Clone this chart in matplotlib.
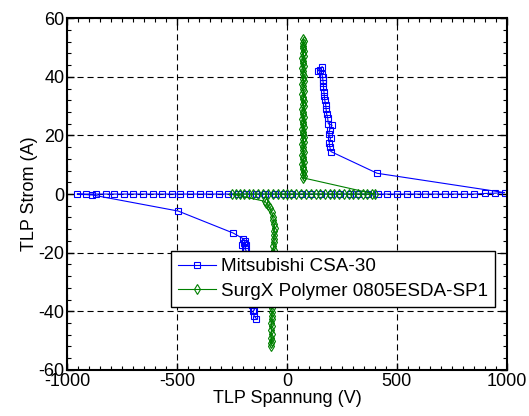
import matplotlib
matplotlib.use("Agg")
import matplotlib.pyplot as plt
from matplotlib.ticker import MultipleLocator

plt.rcParams["font.family"] = ["Liberation Sans", "DejaVu Sans"]
plt.rcParams["axes.unicode_minus"] = False

# Mitsubishi CSA-30, in measurement path order
mitsu_v = [
    -140, -150, -155, -148, -160, -162, -165, -168, -172, -175, -180, -185,
    -192, -185, -195, -205, -190, -200, -245, -495, -886,
    -955, -915, -870, -825, -785, -740, -700, -655, -610, -570, -525, -485,
    -440, -395, -355, -310, -270, -225, -185, -140, -100, -55, -15,
    25, 70, 110, 155, 200, 240, 285, 325, 370, 415, 455, 500, 545, 590,
    630, 675, 720, 760, 805, 850, 900, 945, 990,
    410, 200, 195, 192, 198, 190, 194, 205, 188, 185, 180, 178, 176, 172,
    170, 168, 166, 165, 163, 162, 158, 150, 140, 160,
]
mitsu_i = [
    -42.5, -41.5, -40.0, -39.5, -38.0, -35.0, -32.0, -29.0, -26.0, -23.0, -21.0, -19.5,
    -18.5, -17.5, -16.8, -17.5, -16.0, -15.2, -13.3, -5.8, -0.3,
    0, 0, 0, 0, 0, 0, 0, 0, 0, 0, 0, 0,
    0, 0, 0, 0, 0, 0, 0, 0, 0, 0, 0,
    0, 0, 0, 0, 0, 0, 0, 0, 0, 0, 0, 0, 0, 0,
    0, 0, 0, 0, 0, 0, 0.2, 0.3, 0.5,
    7.1, 14.5, 16.0, 17.5, 19.0, 20.5, 22.0, 23.5, 24.0, 26.0, 27.5, 29.0, 30.5, 32.0,
    33.5, 35.0, 36.5, 38.0, 39.0, 40.0, 41.0, 42.5, 42.0, 43.5,
]

# SurgX Polymer 0805ESDA-SP1, in measurement path order
surgx_v = [
    -74, -72, -70, -73, -69, -71, -68, -72, -67, -70, -66, -69, -71, -65,
    -68, -64, -67, -70, -63, -66, -62, -65, -68, -61, -64, -60, -63, -59,
    -62, -58, -61, -57, -60, -56, -59, -62, -64, -70, -78, -88, -95, -100,
    -250, -232, -215, -195, -175, -155, -132, -110, -88, -65, -42, -20,
    0, 20, 42, 62, 85, 108, 130, 150, 172, 195, 215, 238, 258, 280, 300,
    322, 345, 365, 385, 400,
    75, 76, 73, 78, 71, 75, 69, 77, 72, 74, 70, 78, 73, 75, 68, 76, 72,
    79, 71, 74, 69, 77, 73, 75, 70, 78, 72, 74, 68, 76, 73, 79, 71, 75,
    70, 77, 72, 74, 69, 78, 73, 76, 71, 75, 70, 77, 72, 74, 69, 76, 73,
    78, 71, 75, 72, 77, 74,
]
surgx_i = [
    -52.0, -51.0, -50.0, -49.0, -47.8, -46.5, -45.2, -44.0, -42.7, -41.5, -40.2, -39.0, -37.7, -36.5,
    -35.2, -34.0, -32.7, -31.5, -30.2, -29.0, -27.7, -26.5, -25.2, -24.0, -22.7, -21.5, -20.2, -19.0,
    -17.7, -16.5, -15.2, -14.0, -12.7, -11.5, -10.2, -9.0, -7.8, -6.0, -4.8, -3.8, -3.0, -2.5,
    0, 0, 0, 0, 0, 0, 0, 0, 0, 0, 0, 0,
    0, 0, 0, 0, 0, 0, 0, 0, 0, 0, 0, 0, 0, 0, 0,
    0, 0, 0, 0, 0,
    5.5, 6.3, 7.0, 7.8, 8.5, 9.4, 10.2, 11.0, 11.9, 12.7, 13.5, 14.4, 15.2, 16.1, 17.0, 17.8, 18.7,
    19.5, 20.4, 21.2, 22.1, 23.0, 23.8, 24.7, 25.5, 26.4, 27.3, 28.1, 29.0, 29.9, 30.7, 31.6, 32.5, 33.3,
    34.2, 35.1, 35.9, 36.8, 37.7, 38.5, 39.4, 40.3, 41.1, 42.0, 42.9, 43.7, 44.6, 45.5, 46.3, 47.2, 48.1,
    48.9, 49.8, 50.7, 51.5, 52.3, 52.8,
]

x_ticks = [-1000, -500, 0, 500, 1000]
y_ticks = [-60, -40, -20, 0, 20, 40, 60]

fig = plt.figure(figsize=(5.29, 4.16), dpi=100)
ax = fig.add_axes([0.127, 0.111, 0.831, 0.845])

ax.plot(mitsu_v, mitsu_i, color="#0000ff", lw=0.8, marker="s", ms=5,
        mfc="none", mec="#0000ff", mew=0.8, label="Mitsubishi CSA-30")
ax.plot(surgx_v, surgx_i, color="#008000", lw=0.8, marker="d", ms=5.5,
        mfc="none", mec="#008000", mew=0.8, label="SurgX Polymer 0805ESDA-SP1")

ax.set_xlim(-1000, 1000)
ax.set_ylim(-60, 60)
ax.set_xticks(x_ticks)
ax.set_yticks(y_ticks)
ax.xaxis.set_minor_locator(MultipleLocator(50))
ax.yaxis.set_minor_locator(MultipleLocator(4))
ax.tick_params(which="both", direction="in", top=True, right=True,
               labelsize=13, pad=2)
ax.tick_params(which="major", length=5, width=1)
ax.tick_params(which="minor", length=3, width=0.8)
ax.grid(True, which="major", color="black", lw=0.8, linestyle=(0, (5.5, 3.5)))
for s in ax.spines.values():
    s.set_linewidth(1.5)

ax.set_xlabel("TLP Spannung (V)", fontsize=13, labelpad=0)
ax.set_ylabel("TLP Strom (A)", fontsize=13, labelpad=0)

leg = ax.legend(loc="lower right", bbox_to_anchor=(0.973, 0.18), fontsize=13.6,
                fancybox=False, framealpha=1, edgecolor="black",
                borderpad=0.35, labelspacing=0.4, handletextpad=0.3,
                borderaxespad=0)
leg.get_frame().set_linewidth(1.0)

fig.savefig("out.png", dpi=100)
